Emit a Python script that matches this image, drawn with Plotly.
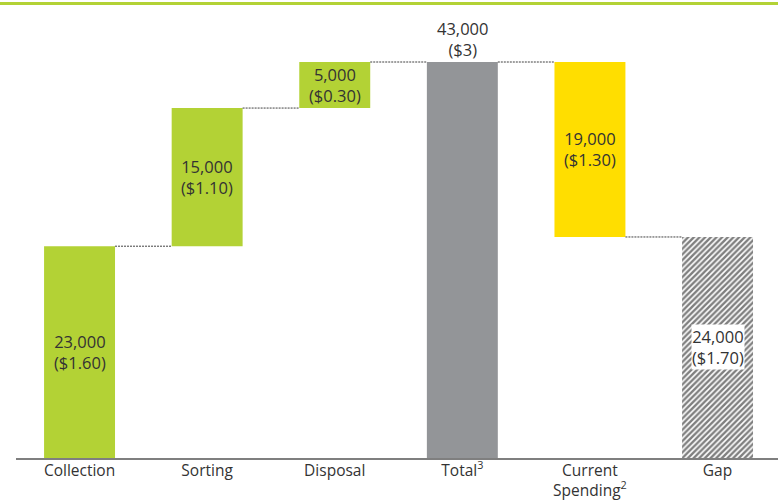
import plotly.graph_objects as go

# Cost build-up (tonnes) and per-unit cost labels
categories = ["Collection", "Sorting", "Disposal", "Total<sup>3</sup>",
              "Current<br>Spending<sup>2</sup>", "Gap"]
values = [23000, 15000, 5000, 43000, 19000, 24000]
bases = [0, 23000, 38000, 0, 24000, 0]
cost_labels = ["$1.60", "$1.10", "$0.30", "$3", "$1.30", "$1.70"]
colors = ["#B3D235", "#B3D235", "#B3D235", "#939598", "#FFDE00", "#FFFFFF"]

W, H = 778, 502
ML, MR, MT, MB = 16, 0, 10, 44
BAR_W = 0.556
FONT = "Open Sans"
FS = 16.5
TICK_FS = 15.5
TXT = "#333333"

x = list(range(len(categories)))

fig = go.Figure()

# Solid bars
fig.add_trace(go.Bar(
    x=x[:5], y=values[:5], base=bases[:5], width=BAR_W,
    marker=dict(color=colors[:5], line=dict(width=0)),
    hoverinfo="skip", showlegend=False,
))
# Hatched gap bar
fig.add_trace(go.Bar(
    x=[x[5]], y=[values[5]], base=[bases[5]], width=BAR_W,
    marker=dict(color="#FFFFFF", line=dict(width=0),
                pattern=dict(shape="/", fgcolor="#000000", bgcolor="#FFFFFF",
                             size=4, solidity=0.6)),
    hoverinfo="skip", showlegend=False,
))

# Dashed connectors between consecutive bars
tops = [b + v for b, v in zip(bases, values)]
levels = [tops[0], tops[1], tops[2], tops[3], bases[4]]
for i, lvl in enumerate(levels):
    fig.add_trace(go.Scatter(
        x=[i + BAR_W / 2, i + 1 - BAR_W / 2], y=[lvl, lvl], mode="lines",
        line=dict(color="#404040", width=1, dash="2px,1px"),
        hoverinfo="skip", showlegend=False,
    ))

# Value labels
for i in range(len(categories)):
    text = f"{values[i]:,}<br>({cost_labels[i]})"
    if i == 3:
        fig.add_annotation(x=i, y=tops[i], text=text, showarrow=False,
                           yanchor="bottom", yshift=-1,
                           font=dict(family=FONT, size=FS, color=TXT))
    else:
        fig.add_annotation(x=i, y=bases[i] + values[i] / 2, text=text,
                           showarrow=False,
                           bgcolor="#FFFFFF" if i == 5 else None,
                           borderpad=0,
                           font=dict(family=FONT, size=FS, color=TXT))

plot_h = H - MT - MB
px_per_unit = 396 / 43000
ymax = plot_h / px_per_unit
plot_w = W - ML - MR
step = 127.6
x0 = -0.498
x1 = x0 + plot_w / step

# Green rule across the top
rule_y = (plot_h - (3.5 - MT)) / plot_h
fig.add_shape(type="line", xref="paper", yref="paper",
              x0=-ML / plot_w, x1=1, y0=rule_y, y1=rule_y,
              line=dict(color="#B3D235", width=3))

fig.update_layout(
    width=W, height=H,
    margin=dict(l=ML, r=MR, t=MT, b=MB, autoexpand=False),
    paper_bgcolor="white", plot_bgcolor="white",
    barmode="overlay",
    font=dict(family=FONT, size=FS, color=TXT),
    xaxis=dict(range=[x0, x1], tickvals=x, ticktext=categories,
               showgrid=False, zeroline=False, showline=True,
               linecolor="#7F7F7F", linewidth=2, ticks="",
               automargin=False, ticklabelstandoff=-3,
               tickfont=dict(family=FONT, size=TICK_FS, color=TXT)),
    yaxis=dict(range=[0, ymax], showgrid=False, zeroline=False,
               showticklabels=False, showline=False, automargin=False),
)

fig.write_html("out.html")
